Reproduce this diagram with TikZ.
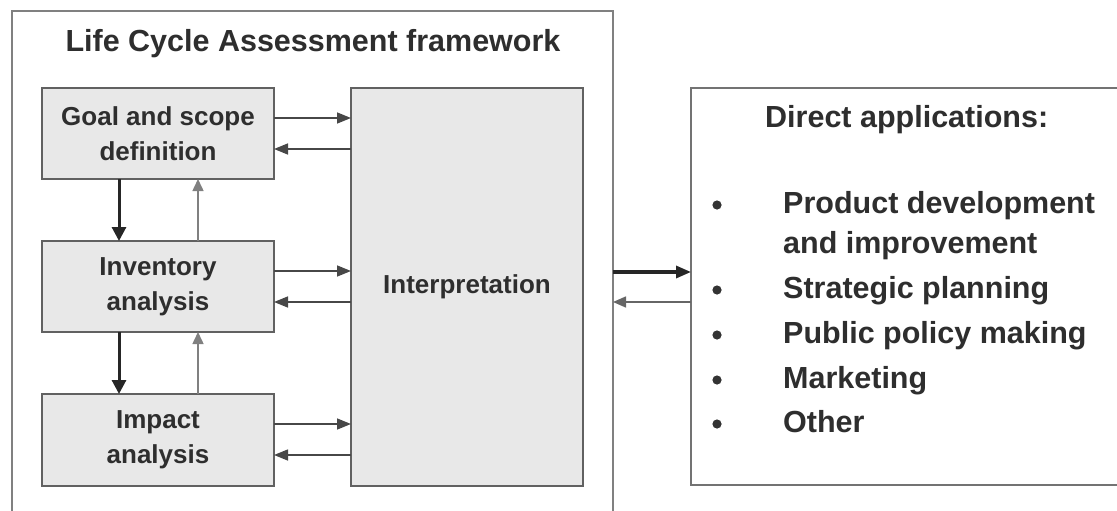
\documentclass[tikz,border=0pt]{standalone}
\usepackage{fontspec}
\setmainfont{Liberation Sans}
\usetikzlibrary{arrows.meta,calc}
\begin{document}
\begin{tikzpicture}[x=1pt,y=-1pt,
  stage/.style={draw=black!62, line width=1.8pt, fill=black!9, outer sep=0pt, inner sep=0pt,
    align=center, text=black!82, font=\bfseries\fontsize{26}{35}\selectfont},
  framebox/.style={draw=black!50, line width=1.6pt, outer sep=0pt, inner sep=0pt},
  heading/.style={text=black!82, font=\bfseries\fontsize{30.5}{36}\selectfont, inner sep=0pt},
  item/.style={heading, anchor=base west},
  thinarrow/.style={draw=black!72, line width=1.5pt, -{Triangle[length=14pt,width=11pt]}},
  downarrow/.style={draw=black!85, line width=3pt, -{Triangle[length=14pt,width=14pt]}},
  uparrow/.style={draw=black!50, line width=1.5pt, -{Triangle[length=12pt,width=11pt]}},
  outarrow/.style={draw=black!85, line width=3.2pt, -{Triangle[length=15pt,width=12pt]}},
  backarrow/.style={draw=black!60, line width=1.5pt, -{Triangle[length=13pt,width=11pt]}},
  dot/.style={fill=black!80}
]
\clip (0,0) rectangle (1117,511);

% outer LCA frame (runs off the bottom edge)
\node[framebox, minimum width=601pt, minimum height=530pt] (lca) at (312.5,276) {};
\node[heading, anchor=base] (ttl) at (313,52) {Life Cycle Assessment framework};

% the four phases
\node[stage, minimum width=232pt, minimum height=91pt] (goal) at (158,133.5) {Goal and scope\\definition};
\node[stage, minimum width=232pt, minimum height=91pt] (inv) at (158,286.5) {Inventory\\analysis};
\node[stage, minimum width=232pt, minimum height=92pt] (imp) at (158,440) {Impact\\analysis};
\node[stage, minimum width=232pt, minimum height=398pt] (interp) at (467,287) {Interpretation};

% exchanges with interpretation
\foreach \b in {goal,inv,imp}{
  \coordinate (\b-out) at ($(\b.north east)+(0,30)$);
  \coordinate (\b-in) at ($(\b.north east)+(0,61)$);
  \draw[thinarrow] (\b-out) -- (\b-out -| interp.west);
  \draw[thinarrow] (\b-in -| interp.west) -- (\b-in);
}

% iteration between phases
\draw[downarrow] ($(goal.south west)+(77,0)$) -- ($(inv.north west)+(77,0)$);
\draw[uparrow] ($(inv.north west)+(156,0)$) -- ($(goal.south west)+(156,0)$);
\draw[downarrow] ($(inv.south west)+(77,0)$) -- ($(imp.north west)+(77,0)$);
\draw[uparrow] ($(imp.north west)+(156,0)$) -- ($(inv.south west)+(156,0)$);

% applications box (runs off the right edge)
\node[framebox, draw=black!55, fill=white, minimum width=440pt, minimum height=397pt] (apps) at (911,286.5) {};
\node[item] (dh) at (765,127) {Direct applications:};

\node[item] (i1a) at (783,213) {Product development};
\node[item] (i1b) at (783,253) {and improvement};
\node[item] (i2) at (783,298) {Strategic planning};
\node[item] (i3) at (783,343) {Public policy making};
\node[item] (i4) at (783,388) {Marketing};
\node[item] (i5) at (783,432) {Other};
\foreach \y in {213,298,343,388,432}{
  \fill[dot] (717,\y-8) circle (4.6);
}

% links between framework and applications
\coordinate (o1) at (lca.east |- 0,272);
\coordinate (o2) at (lca.east |- 0,302);
\draw[outarrow] (o1) -- (o1 -| apps.west);
\draw[backarrow] (o2 -| apps.west) -- (o2);
\end{tikzpicture}
\end{document}
